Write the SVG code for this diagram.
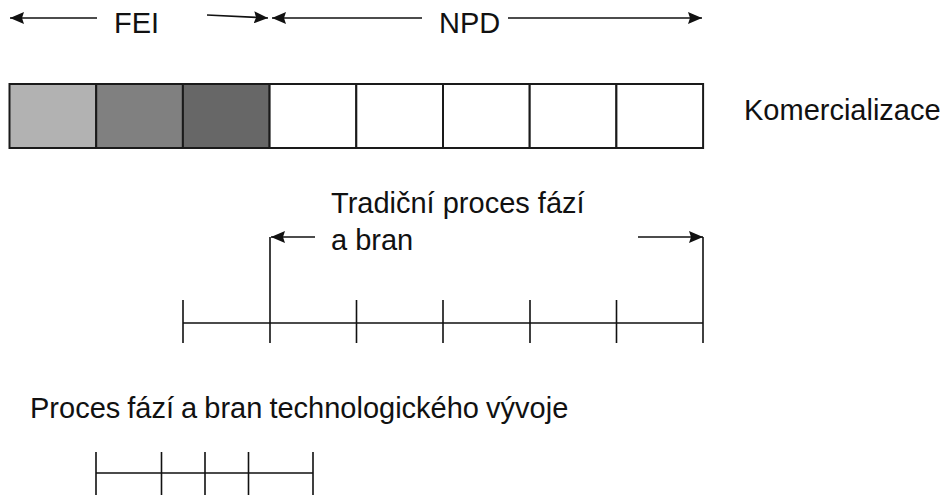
<svg xmlns="http://www.w3.org/2000/svg" width="947" height="497" viewBox="0 0 947 497">
<defs>
<style>
.t{font-family:"Liberation Sans",Arial,sans-serif;font-size:29px;fill:#111}
.ln{stroke:#111;stroke-width:1.6;fill:none}
.bx{stroke:#1a1a1a;stroke-width:2}
</style>
<marker id="ah" viewBox="0 0 14 12" refX="14" refY="6" markerWidth="14" markerHeight="12" markerUnits="userSpaceOnUse" orient="auto">
<path d="M0,0 L14,6 L0,12 L2,6 z" fill="#111"/>
</marker>
</defs>
<rect width="947" height="497" fill="#fff"/>
<g id="connectors">
<line class="ln" x1="97" y1="18" x2="10" y2="18" marker-end="url(#ah)"/>
<line class="ln" x1="207" y1="15" x2="268" y2="18" marker-end="url(#ah)"/>
<line class="ln" x1="422" y1="18" x2="272" y2="18" marker-end="url(#ah)"/>
<line class="ln" x1="508" y1="18" x2="702" y2="18" marker-end="url(#ah)"/>
<path class="ln" d="M270,343 V237" />
<line class="ln" x1="315" y1="237" x2="271" y2="237" marker-end="url(#ah)"/>
<path class="ln" d="M703,343 V237" />
<line class="ln" x1="638" y1="237" x2="703" y2="237" marker-end="url(#ah)"/>
</g>
<g id="labels">
<text class="t" x="114" y="33">FEI</text>
<text class="t" x="439" y="33">NPD</text>
<text class="t" x="744" y="120">Komercializace</text>
<text class="t" x="331" y="213">Tradiční proces fází</text>
<text class="t" x="331" y="250">a bran</text>
<text class="t" x="30" y="418" word-spacing="-1">Proces fází a bran technologického vývoje</text>
</g>
<g id="phases">
<rect class="bx" x="9.5" y="84" width="86.7" height="64" fill="#b2b2b2"/>
<rect class="bx" x="96.2" y="84" width="86.7" height="64" fill="#808080"/>
<rect class="bx" x="182.9" y="84" width="86.7" height="64" fill="#676767"/>
<rect class="bx" x="269.6" y="84" width="86.7" height="64" fill="#fff"/>
<rect class="bx" x="356.3" y="84" width="86.7" height="64" fill="#fff"/>
<rect class="bx" x="443" y="84" width="86.7" height="64" fill="#fff"/>
<rect class="bx" x="529.7" y="84" width="86.7" height="64" fill="#fff"/>
<rect class="bx" x="616.4" y="84" width="86.7" height="64" fill="#fff"/>
</g>
<g id="traditional-timeline">
<path class="ln" d="M183,323 H703 M183,300 V343 M356.5,300 V343 M443,300 V343 M530,300 V343 M616.5,300 V343"/>
</g>
<g id="technology-timeline">
<path class="ln" d="M96,473 H313 M96,452 V495 M161.5,452 V495 M205,452 V495 M248.5,452 V495 M313,452 V495"/>
</g>
</svg>
